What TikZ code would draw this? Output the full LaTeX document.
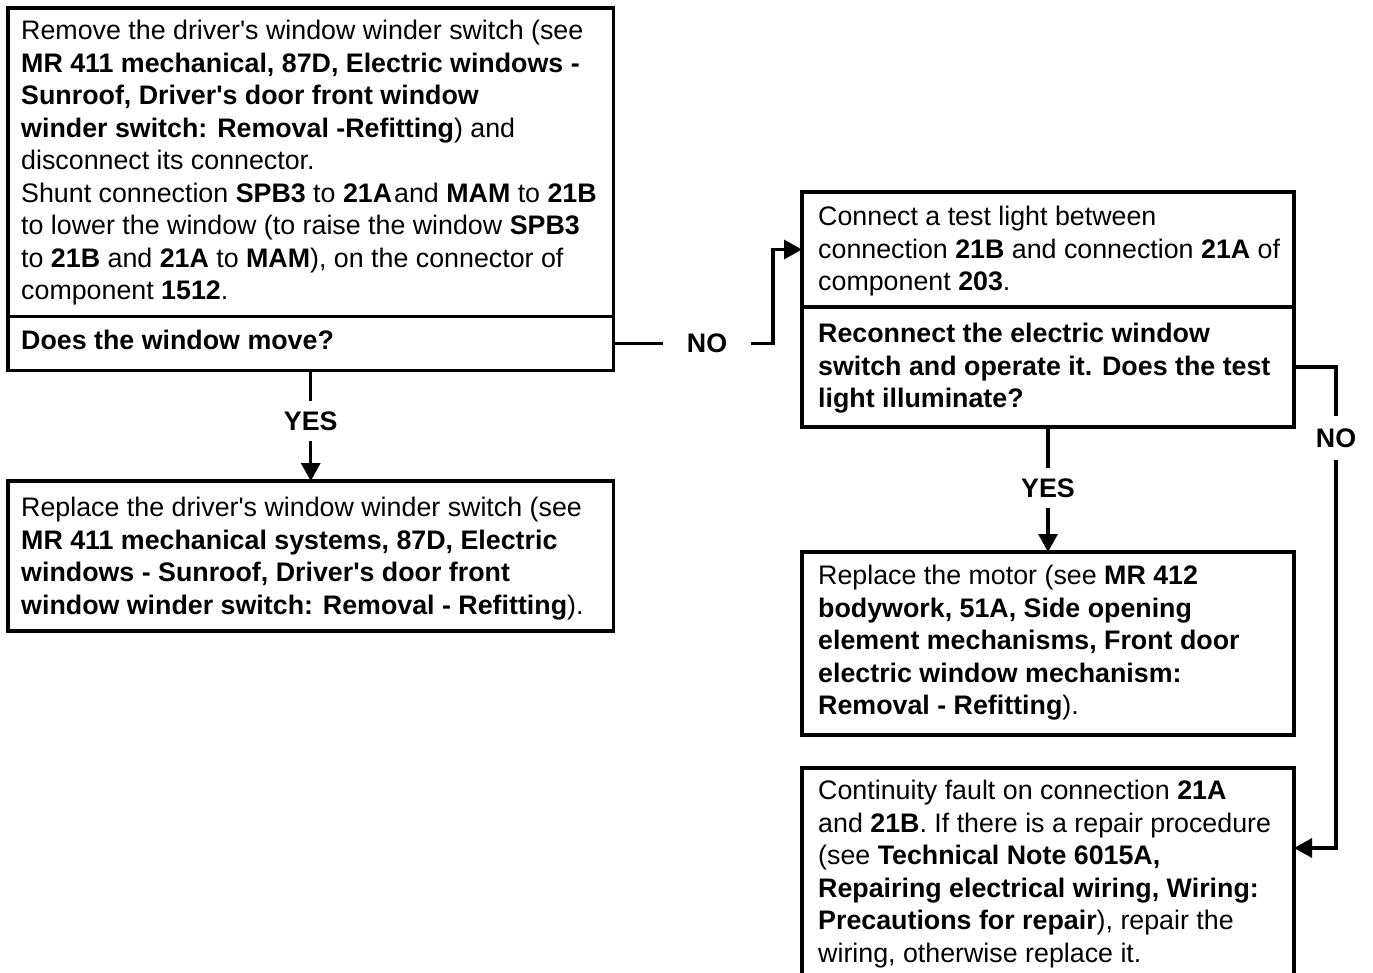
\documentclass[tikz,border=0pt]{standalone}
\usepackage{fontspec}
\setmainfont{Liberation Sans}[Ligatures=TeXOff]
\usetikzlibrary{arrows.meta}
\begin{document}
\begin{tikzpicture}[x=1pt,y=-1pt,
  box/.style={draw, line width=3.2pt, rectangle, inner sep=0pt, outer sep=0pt, anchor=north west},
  txt/.style={anchor=north west, inner sep=0pt, align=left, font=\fontsize{26.8}{32.5}\selectfont},
  lbl/.style={inner xsep=24pt, inner ysep=10pt, font=\bfseries\fontsize{26.8}{32.5}\selectfont},
  wire/.style={line width=3.2pt},
  arr/.style={wire, -{Triangle[length=18pt,width=19pt]}}]
\useasboundingbox (0,0) rectangle (1373,972);
\clip (0,0) rectangle (1373,972);

% frames
\node[box, minimum width=605.5pt, minimum height=308.5pt] (b1top) at (8,8) {};
\node[box, minimum width=605.5pt, minimum height=54pt] (b1bot) at (8,316.5) {};
\node[box, minimum width=605.5pt, minimum height=150pt] (b2) at (8,481) {};
\node[box, minimum width=492pt, minimum height=115pt] (b3top) at (802,192) {};
\node[box, minimum width=492pt, minimum height=120pt] (b3bot) at (802,307) {};
\node[box, minimum width=492pt, minimum height=183pt] (b4) at (802,552) {};
\node[box, minimum width=492pt, minimum height=240pt] (b5) at (802,768) {};

% texts
\node[txt] (t1top) at (21,16.9) {\strut Remove the driver's window winder switch (see\\
\textbf{MR 411 mechanical, 87D, Electric windows -}\\
\textbf{Sunroof, Driver's door front window}\\
\textbf{winder switch: Removal -Refitting}) and\\
disconnect its connector.\\
Shunt connection \textbf{SPB3} to \textbf{21A}\kern2pt and \textbf{MAM} to \textbf{21B}\\
to lower the window (to raise the window \textbf{SPB3}\\
to \textbf{21B} and \textbf{21A} to \textbf{MAM}), on the connector of\\
component \textbf{1512}.};
\node[txt] (t1bot) at (21,326.9) {\strut\textbf{Does the window move?}};
\node[txt] (t2) at (21,493.9) {\strut Replace the driver's window winder switch (see\\
\textbf{MR 411 mechanical systems, 87D, Electric}\\
\textbf{windows - Sunroof, Driver's door front}\\
\textbf{window winder switch: Removal - Refitting}).};
\node[txt] (t3top) at (818,202.9) {\strut Connect a test light between\\
connection \textbf{21B} and connection \textbf{21A} of\\
component \textbf{203}.};
\node[txt] (t3bot) at (818,319.9) {\strut\textbf{Reconnect the electric window}\\
\textbf{switch and operate it. Does the test}\\
\textbf{light illuminate?}};
\node[txt] (t4) at (818,561.9) {\strut Replace the motor (see \textbf{MR 412}\\
\textbf{bodywork, 51A, Side opening}\\
\textbf{element mechanisms, Front door}\\
\textbf{electric window mechanism:}\\
\textbf{Removal - Refitting}).};
\node[txt] (t5) at (818,776.9) {\strut Continuity fault on connection \textbf{21A}\\
and \textbf{21B}. If there is a repair procedure\\
(see \textbf{Technical Note 6015A,}\\
\textbf{Repairing electrical wiring, Wiring:}\\
\textbf{Precautions for repair}), repair the\\
wiring, otherwise replace it.};

% branch labels
\node[lbl] (yes1) at (b1bot.south |- 0,421) {YES};
\node[lbl] (no1) at (707,343.5) {NO};
\node[lbl] (yes2) at (b3bot.south |- 0,488) {YES};
\node[lbl, inner ysep=12pt] (no2) at (1336,438) {NO};
\coordinate (k1) at (773,343.5);
\coordinate (k2) at (1336,367);

% connectors
\draw[wire] (b1bot.south) -- (yes1.north);
\draw[arr] (yes1.south) -- (b2.north);
\draw[wire] (b1bot.east) -- (no1.west);
\draw[arr] (no1.east) -- (k1) |- (b3top.west);
\draw[wire] (b3bot.south) -- (yes2.north);
\draw[arr] (yes2.south) -- (b4.north);
\draw[wire] (b3bot.east) -| (no2.north);
\draw[arr] (no2.south) |- (b5.east |- 0,848);
\end{tikzpicture}
\end{document}
